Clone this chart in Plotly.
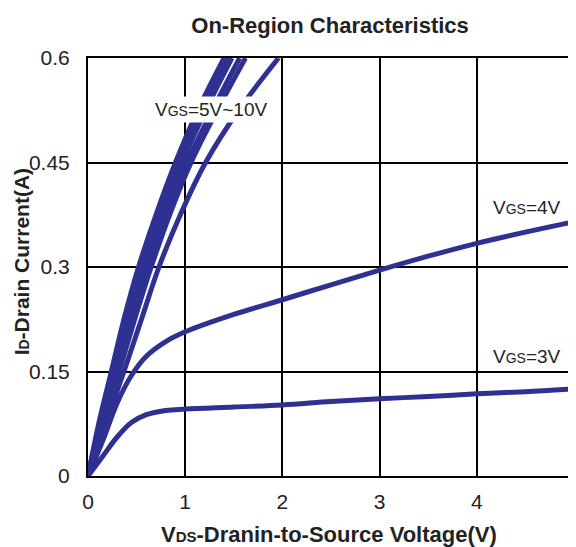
import plotly.graph_objects as go

# ---- data ----
x_ticks = [0, 1, 2, 3, 4, 5]
y_ticks = [0, 0.15, 0.3, 0.45, 0.6]
y_tick_labels = ["0", "0.15", "0.3", "0.45", "0.6"]

# VGS = 5..10 V : drain-source voltage at given current levels
id_levels = [0, 0.075, 0.15, 0.225, 0.3, 0.375, 0.45, 0.525, 0.6]
vds_10v = [0, 0.11, 0.24, 0.37, 0.52, 0.70, 0.90, 1.13, 1.40]
vds_9v = [0, 0.12, 0.255, 0.39, 0.545, 0.73, 0.93, 1.17, 1.44]
vds_8v = [0, 0.13, 0.27, 0.415, 0.57, 0.76, 0.97, 1.21, 1.48]
vds_7v = [0, 0.14, 0.295, 0.45, 0.615, 0.80, 1.02, 1.28, 1.56]
vds_6v = [0, 0.15, 0.32, 0.48, 0.65, 0.84, 1.06, 1.33, 1.62]
vds_5v = [0, 0.18, 0.37, 0.55, 0.73, 0.95, 1.21, 1.55, 1.96]

# VGS = 4 V and 3 V : drain current at given voltages
vds_low = [0, 0.15, 0.3, 0.45, 0.6, 0.8, 1.0, 1.5, 2.0, 2.5, 3.0, 3.5, 4.0, 4.5, 5.0]
id_4v = [0, 0.05, 0.105, 0.145, 0.172, 0.193, 0.207, 0.232, 0.253, 0.2745, 0.2955, 0.3155, 0.334, 0.35, 0.365]
id_3v = [0, 0.028, 0.056, 0.077, 0.088, 0.094, 0.096, 0.099, 0.102, 0.107, 0.111, 0.114, 0.118, 0.121, 0.125]

COLOR = "#2e3192"
FONT = "Liberation Sans, Arial, sans-serif"
TXT = "#222222"

fig = go.Figure()
for v in [vds_10v, vds_9v, vds_8v, vds_7v, vds_6v, vds_5v]:
    fig.add_trace(go.Scatter(x=v, y=id_levels, mode="lines",
                             line=dict(color=COLOR, width=5, shape="spline"),
                             showlegend=False, hoverinfo="skip"))
for i_vals in [id_4v, id_3v]:
    fig.add_trace(go.Scatter(x=vds_low, y=i_vals, mode="lines",
                             line=dict(color=COLOR, width=5, shape="spline"),
                             showlegend=False, hoverinfo="skip"))

small = "<span style='font-size:14px'>GS</span>"
fig.add_annotation(x=1.27, y=0.526, xref="x", yref="y",
                   text="V" + small + "=5V~10V", showarrow=False,
                   font=dict(family=FONT, size=19, color=TXT),
                   bgcolor="white", borderpad=2)
fig.add_annotation(x=4.52, y=0.386, xref="x", yref="y",
                   text="V" + small + "=4V", showarrow=False,
                   font=dict(family=FONT, size=19, color=TXT))
fig.add_annotation(x=4.52, y=0.171, xref="x", yref="y",
                   text="V" + small + "=3V", showarrow=False,
                   font=dict(family=FONT, size=19, color=TXT))

# axis titles
fig.add_annotation(x=0.496, y=-0.14, xref="paper", yref="paper",
                   text="<b>V<span style='font-size:15px'>DS</span>-Dranin-to-Source Voltage(V)</b>",
                   showarrow=False, yanchor="middle",
                   font=dict(family=FONT, size=22, color=TXT))
fig.add_annotation(x=-0.135, y=0.512, xref="paper", yref="paper",
                   text="<b>I<span style='font-size:14px'>D</span>-Drain Current(A)</b>",
                   showarrow=False, textangle=-90, xanchor="center", yanchor="middle",
                   font=dict(family=FONT, size=21, color=TXT))

# the page body has an 8px margin, so the figure is sized/offset to compensate
fig.update_layout(
    width=568, height=539,
    margin=dict(l=80, r=0, t=50, b=71),
    paper_bgcolor="white", plot_bgcolor="white",
    title=dict(text="<b>On-Region Characteristics</b>", x=0.567, xanchor="center",
               y=1 - 17 / 539, yanchor="middle", yref="container",
               font=dict(family=FONT, size=22, color=TXT)),
    font=dict(family=FONT, color=TXT),
)
fig.update_xaxes(range=[0, 5], tickvals=x_ticks, ticktext=[str(t) for t in x_ticks],
                 showgrid=True, gridcolor="black", gridwidth=2,
                 showline=True, linecolor="black", linewidth=2, mirror=True,
                 zeroline=False, ticks="", ticklabelstandoff=6,
                 tickfont=dict(family=FONT, size=21, color=TXT),
                 fixedrange=True)
fig.update_yaxes(range=[0, 0.6], tickvals=y_ticks, ticktext=y_tick_labels,
                 showgrid=True, gridcolor="black", gridwidth=2,
                 showline=True, linecolor="black", linewidth=2, mirror=True,
                 zeroline=False, ticks="", ticklabelstandoff=12,
                 tickfont=dict(family=FONT, size=21, color=TXT),
                 fixedrange=True)

fig.write_html("out.html")
